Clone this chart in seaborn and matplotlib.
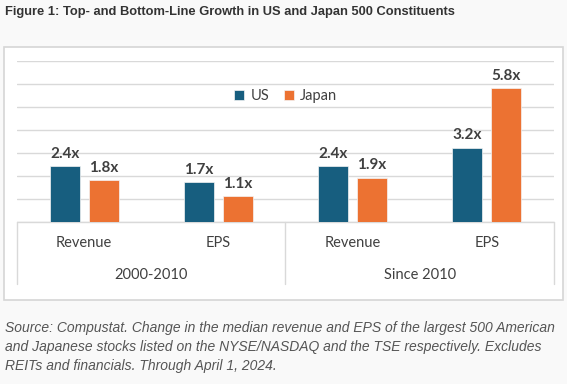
#!/usr/bin/env python3

# Libraries
import seaborn as sns
import pandas as pd
from matplotlib import pyplot as plt
from matplotlib.patches import Rectangle
import matplotlib.transforms as mtransforms

# Data
periods = ["2000-2010", "2000-2010", "Since 2010", "Since 2010"]
metrics = ["Revenue", "EPS", "Revenue", "EPS"]
us_growth = [2.4, 1.7, 2.4, 3.2]
japan_growth = [1.8, 1.1, 1.9, 5.8]
countries = ["US", "Japan"]
colors = ["#175e7f", "#ec7232"]

title = "Figure 1: Top- and Bottom-Line Growth in US and Japan 500 Constituents"
caption = [
    "Source: Compustat. Change in the median revenue and EPS of the largest 500 American",
    "and Japanese stocks listed on the NYSE/NASDAQ and the TSE respectively. Excludes",
    "REITs and financials. Through April 1, 2024.",
]

slots = [p + " " + m for p, m in zip(periods, metrics)]
rows = []
for s, u, j in zip(slots, us_growth, japan_growth):
    rows.append({"slot": s, "country": "US", "growth": u})
    rows.append({"slot": s, "country": "Japan", "growth": j})
df = pd.DataFrame(rows)

sns.set_theme(style="white")
plt.rcParams["font.family"] = ["Lato", "DejaVu Sans"]

W, H = 567, 384
fig = plt.figure(figsize=(W / 100, H / 100), dpi=100)
fig.patch.set_facecolor("#f9f9f9")

def fx(px):
    return px / W

def fy(py):
    return 1 - py / H

# white chart box, behind the axes
fig.patches.append(Rectangle((fx(4), fy(300)), fx(563) - fx(4), fy(47) - fy(300),
                             transform=fig.transFigure, facecolor="white",
                             edgecolor="#d6d6d6", linewidth=1.2, zorder=-5))

left, right, top, base = 17, 554, 60.5, 221.5
ax = fig.add_axes([fx(left), fy(base), fx(right) - fx(left), fy(top) - fy(base)])
ax.set_facecolor("none")
ax.set_zorder(2)

sns.barplot(data=df, x="slot", y="growth", hue="country", order=slots,
            hue_order=countries, palette=colors, saturation=1, width=0.58, gap=0.23,
            errorbar=None, ax=ax, zorder=3, edgecolor="#f4f4f4", linewidth=0.5)

ax.set_ylim(0, 7)
ax.set_xlim(-0.5, len(slots) - 0.5)
ax.set_yticks(range(0, 8))
ax.yaxis.grid(True, color="#d9d9d9", linewidth=1.0, zorder=0)
ax.set_axisbelow(True)
for sp in ax.spines.values():
    sp.set_visible(False)
ax.set_xticks([])
ax.set_yticklabels([])
ax.tick_params(left=False, bottom=False)
ax.set_xlabel("")
ax.set_ylabel("")

for cont in ax.containers:
    ax.bar_label(cont, fmt="%.1fx", padding=4, fontsize=11, fontweight="bold",
                 color="#404040")

# category axis: labels and separators
trans = mtransforms.blended_transform_factory(ax.transData, ax.transAxes)
axh = base - top
def ay(py):
    return (base - py) / axh

ax.plot([-0.5, 3.5], [0, 0], transform=trans, color="#d9d9d9", lw=1.0,
        clip_on=False, zorder=1)
for xs in [-0.5, 1.5, 3.5]:
    ax.plot([xs, xs], [0, ay(284)], transform=trans, color="#d9d9d9", lw=1.0,
            clip_on=False)
for i, m in enumerate(metrics):
    ax.text(i, ay(243), m, transform=trans, ha="center", va="center",
            fontsize=10.5, color="#404040")
for i, p in enumerate(["2000-2010", "Since 2010"]):
    ax.text(2 * i + 0.5, ay(275), p, transform=trans, ha="center", va="center",
            fontsize=10.5, color="#404040")

# legend
handles, labels = ax.get_legend_handles_labels()
leg = ax.legend(handles, labels, loc="center", bbox_to_anchor=(0.5, ay(96)),
                ncol=2, frameon=False, handlelength=0.7, handleheight=0.7,
                handletextpad=0.4, columnspacing=1.0, fontsize=10.5)
for t in leg.get_texts():
    t.set_color("#404040")

# title and caption
fig.text(fx(5), fy(12), title, ha="left", va="center", fontsize=9.3,
         fontweight="bold", color="#333333", family=["Liberation Sans", "DejaVu Sans"])
for line, py in zip(caption, [328, 347, 366]):
    fig.text(fx(5), fy(py), line, ha="left", va="center", fontsize=10,
             style="italic", color="#555555", family=["Liberation Sans", "DejaVu Sans"])

fig.savefig("out.png", dpi=100, facecolor=fig.get_facecolor())
